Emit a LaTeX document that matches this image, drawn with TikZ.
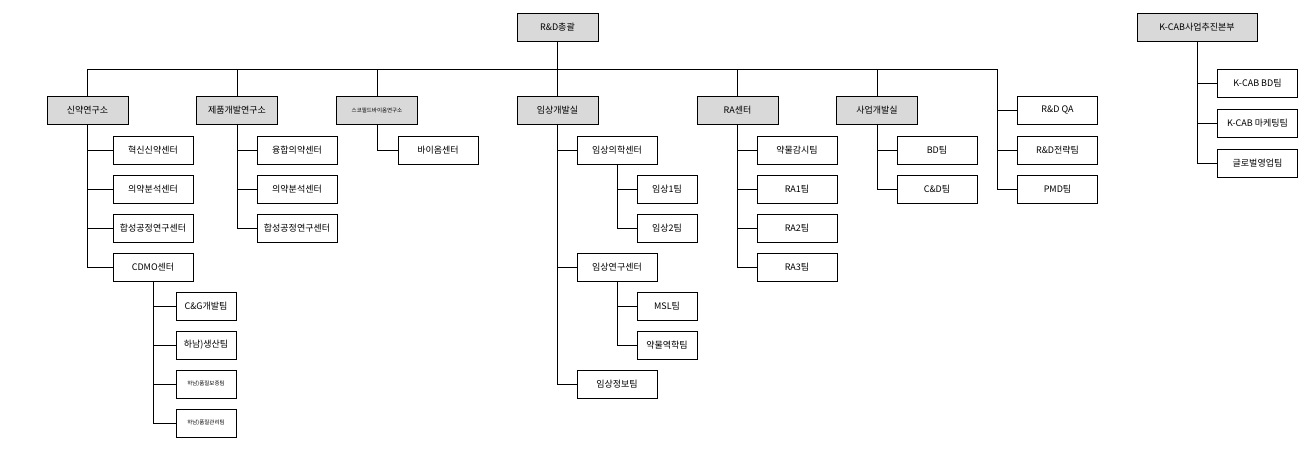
\documentclass[tikz,border=0pt]{standalone}
\usepackage{fontspec}
\setmainfont{Noto Sans CJK KR}
\usetikzlibrary{positioning}
\tikzset{
    head/.style={draw, fill=black!15, line width=0.8pt, minimum width=81pt, minimum height=28pt, inner sep=1pt, font=\fontsize{9pt}{10}\selectfont},
    team/.style={draw, fill=white, line width=0.8pt, minimum width=80pt, minimum height=28pt, inner sep=1pt, font=\fontsize{9pt}{10}\selectfont},
    small/.style={team, minimum width=60pt},
    tiny/.style={font=\fontsize{5.5pt}{6}\selectfont},
    link/.style={line width=0.8pt},
}
\begin{document}
\begin{tikzpicture}[x=1pt, y=-1pt]
    \useasboundingbox (0,0) rectangle (1316,448);

    \node [head] (top) at (557.5, 27) {R\&D총괄};
    \node [head, minimum width=120pt] (kcab) at (1197, 27) {K-CAB사업추진본부};

    \node [head] (sinyak) at (87.5, 110) {신약연구소};
    \node [head] (jepum) at (237, 110) {제품개발연구소};
    \node [head, tiny] (scoph) at (377, 110) {스코필드바이옴연구소};
    \node [head] (imsang) at (557.5, 110) {임상개발실};
    \node [head] (ra) at (737.5, 110) {RA센터};
    \node [head] (saeop) at (877, 110) {사업개발실};
    \coordinate (bus) at (557.5, 69);
    \coordinate (qa0) at (997, 69);

    % 신약연구소
    \node [team] (s1) at (153, 150) {혁신신약센터};
    \node [team] (s2) at (153, 189) {의약분석센터};
    \node [team] (s3) at (153, 228) {합성공정연구센터};
    \node [team] (cdmo) at (153, 267) {CDMO센터};
    \node [small] (c1) at (206, 306) {C\&G개발팀};
    \node [small] (c2) at (206, 345) {하남)생산팀};
    \node [small, tiny] (c3) at (206, 384) {하남)품질보증팀};
    \node [small, tiny] (c4) at (206, 423) {하남)품질관리팀};

    % 제품개발연구소
    \node [team] (j1) at (297, 150) {융합의약센터};
    \node [team] (j2) at (297, 189) {의약분석센터};
    \node [team] (j3) at (297, 228) {합성공정연구센터};

    \node [team] (bio) at (438, 150) {바이옴센터};

    % 임상개발실
    \node [team] (im1) at (617, 150) {임상의학센터};
    \node [small] (im11) at (667, 189) {임상1팀};
    \node [small] (im12) at (667, 228) {임상2팀};
    \node [team] (im2) at (617, 267) {임상연구센터};
    \node [small] (im21) at (667, 306) {MSL팀};
    \node [small] (im22) at (667, 345) {약물역학팀};
    \node [team] (im3) at (617, 384) {임상정보팀};

    % RA센터
    \node [team] (r1) at (797, 150) {약물감시팀};
    \node [team] (r2) at (797, 189) {RA1팀};
    \node [team] (r3) at (797, 228) {RA2팀};
    \node [team] (r4) at (797, 267) {RA3팀};

    \node [team] (b1) at (937, 150) {BD팀};
    \node [team] (b2) at (937, 189) {C\&D팀};

    \node [team] (q1) at (1057.5, 110) {R\&D QA};
    \node [team] (q2) at (1057.5, 150) {R\&D전략팀};
    \node [team] (q3) at (1057.5, 189) {PMD팀};

    \node [team] (k1) at (1257.5, 83) {K-CAB BD팀};
    \node [team] (k2) at (1257.5, 123) {K-CAB 마케팅팀};
    \node [team] (k3) at (1257.5, 163) {글로벌영업팀};

    \draw [link] (top) -- (bus);
    \draw [link] (sinyak.north) |- (qa0) -- (qa0 |- q3) -- (q3.west);
    \foreach \n in {jepum, scoph, imsang, ra, saeop}
        \draw [link] (\n.north) -- (\n.north |- bus);
    \foreach \n in {q1, q2}
        \draw [link] (qa0 |- \n) -- (\n.west);

    \foreach \p/\c in {sinyak/s1, sinyak/s2, sinyak/s3, sinyak/cdmo, cdmo/c1, cdmo/c2, cdmo/c3, cdmo/c4,
                       jepum/j1, jepum/j2, jepum/j3, scoph/bio,
                       imsang/im1, imsang/im2, imsang/im3, im1/im11, im1/im12, im2/im21, im2/im22,
                       ra/r1, ra/r2, ra/r3, ra/r4, saeop/b1, saeop/b2, kcab/k1, kcab/k2, kcab/k3}
        \draw [link] (\p.south) |- (\c.west);
\end{tikzpicture}
\end{document}
